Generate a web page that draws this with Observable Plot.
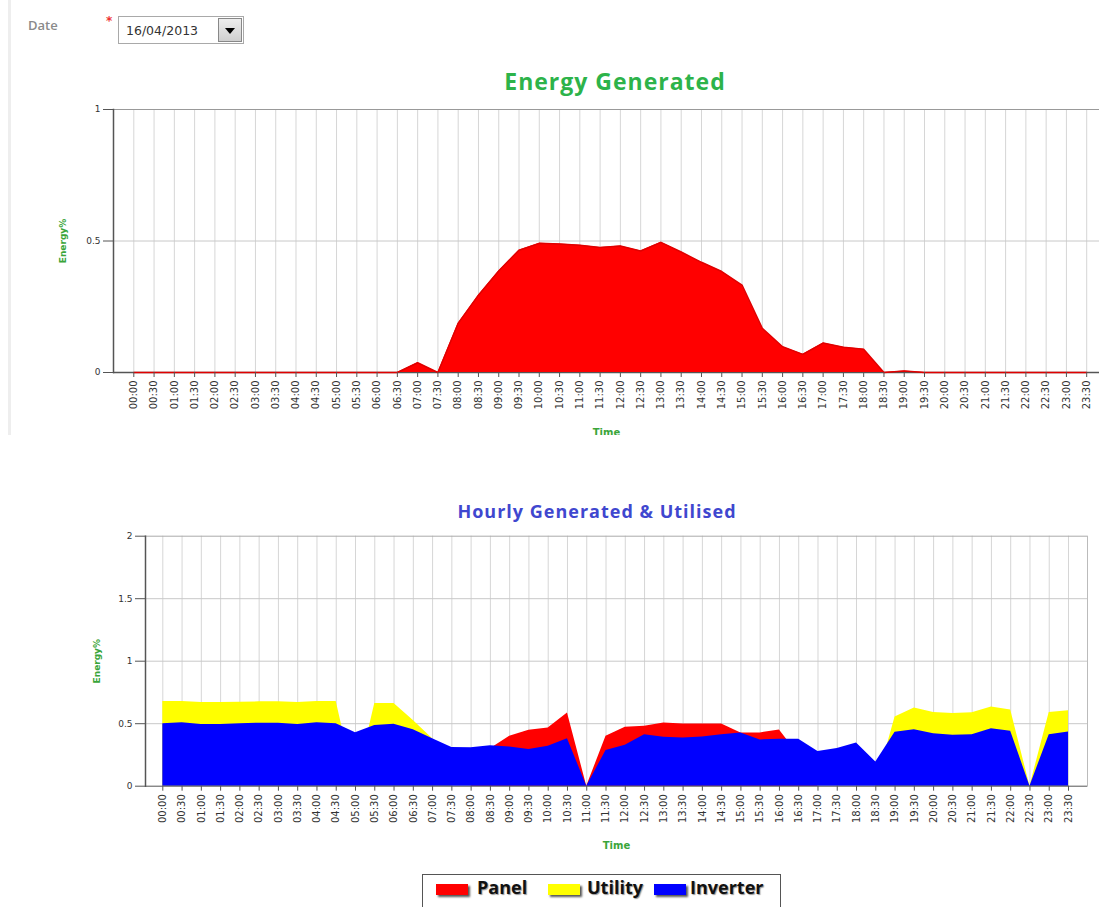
<!DOCTYPE html>
<html>
<head>
<meta charset="utf-8">
<script src="https://cdn.jsdelivr.net/npm/d3@7"></script>
<script src="https://cdn.jsdelivr.net/npm/@observablehq/plot@0.6"></script>
<style>
  html, body { margin: 0; padding: 0; background: #fff; }
  #page { position: relative; width: 1099px; height: 907px; overflow: hidden; background: #fff; }
  .abs { position: absolute; }
  #strip { left: 8px; top: 0; width: 3px; height: 435px; background: #eeeeee; }
  #dateLbl { left: 28px; top: 16px; font: 600 13px "Open Sans", sans-serif; color: #8a8a8a; }
  #star { left: 106px; top: 14px; font: bold 12px "DejaVu Sans", sans-serif; color: #e33; }
  #sel { left: 118px; top: 16px; width: 126px; height: 28px; border: 1px solid #a9a9a9; background: #fff; box-sizing: border-box; }
  #selTxt { left: 7px; top: 6px; font: 12.5px "DejaVu Sans", sans-serif; color: #333; }
  #selBtn { right: 1px; top: 1px; width: 24px; height: 24px; border: 1px solid #888; box-sizing: border-box; background: linear-gradient(#eee, #cfcfcf); }
  #tri { left: 6px; top: 9px; width: 0; height: 0; border-left: 5px solid transparent; border-right: 5px solid transparent; border-top: 6px solid #000; }
  .title { text-align: center; font-weight: 700; font-family: "Open Sans", sans-serif; white-space: nowrap; }
  #t1 { left: 315px; width: 600px; top: 65px; font-size: 23px; letter-spacing: 1px; color: #2db34a; }
  #t2 { left: 297px; width: 600px; top: 499px; font-size: 18px; letter-spacing: 1px; color: #3f47cf; }
  #topChart { left: 0; top: 0; height: 435px; overflow: hidden; }
  #botChart { left: 0; top: 440px; }
  #legend { left: 422px; top: 874px; width: 359px; height: 40px; border: 1px solid #555; box-sizing: border-box; background: #fff; }
  .sw { position: absolute; top: 9px; width: 32px; height: 11px; box-shadow: 2px 2px 2px #555; }
  .lt { position: absolute; top: 0px; font: 700 18px "Open Sans", sans-serif; color: #111; text-shadow: 1px 1px 1px #999; }
</style>
</head>
<body>
<div id="page">
  <div id="strip" class="abs"></div>
  <div id="dateLbl" class="abs">Date</div>
  <div id="star" class="abs">*</div>
  <div id="sel" class="abs"><div id="selTxt" class="abs">16/04/2013</div><div id="selBtn" class="abs"><div id="tri" class="abs"></div></div></div>
  <div id="t1" class="abs title">Energy Generated</div>
  <div id="topChart" class="abs"></div>
  <div id="t2" class="abs title">Hourly Generated &amp; Utilised</div>
  <div id="botChart" class="abs"></div>
  <div id="legend" class="abs">
    <div class="sw" style="left:13px;background:#ff0000"></div><div class="lt" style="left:54px">Panel</div>
    <div class="sw" style="left:125px;background:#ffff00"></div><div class="lt" style="left:164px">Utility</div>
    <div class="sw" style="left:231px;background:#0000ff"></div><div class="lt" style="left:267px">Inverter</div>
  </div>
</div>
<script>
// ---- data ----
const times = ["00:00","00:30","01:00","01:30","02:00","02:30","03:00","03:30","04:00","04:30",
  "05:00","05:30","06:00","06:30","07:00","07:30","08:00","08:30","09:00","09:30",
  "10:00","10:30","11:00","11:30","12:00","12:30","13:00","13:30","14:00","14:30",
  "15:00","15:30","16:00","16:30","17:00","17:30","18:00","18:30","19:00","19:30",
  "20:00","20:30","21:00","21:30","22:00","22:30","23:00","23:30"];

// Energy Generated (top chart)
const generated = [0,0,0,0,0,0,0,0,0,0,
  0,0,0,0,0.037,0,0.187,0.294,0.386,0.465,
  0.491,0.489,0.484,0.475,0.481,0.462,0.495,0.458,0.419,0.384,
  0.332,0.168,0.098,0.069,0.112,0.096,0.088,0,0.006,0,
  0,0,0,0,0,0,0,0];

// Hourly Generated & Utilised (bottom chart)
const panel = [0,0,0,0,0,0,0,0,0,0,
  0,0,0,0,0,0,0,0.30,0.399,0.447,
  0.465,0.585,0,0.399,0.471,0.479,0.505,0.497,0.497,0.497,
  0.426,0.426,0.449,0.25,0,0,0,0,0,0,
  0,0,0,0,0,0,0,0];
const utility = [0.677,0.677,0.669,0.669,0.672,0.675,0.675,0.669,0.677,0.677,
  0,0.661,0.661,0.525,0.379,0,0,0,0,0,
  0,0,0,0,0,0,0,0,0,0,
  0,0,0,0,0,0,0,0,0.553,0.625,
  0.590,0.582,0.588,0.633,0.609,0,0.590,0.604];
const inverter = [0.499,0.507,0.493,0.493,0.499,0.504,0.504,0.493,0.507,0.499,
  0.427,0.485,0.496,0.451,0.379,0.31,0.308,0.324,0.314,0.293,
  0.319,0.380,0,0.285,0.327,0.412,0.391,0.386,0.394,0.412,
  0.426,0.370,0.375,0.375,0.277,0.301,0.346,0.194,0.431,0.452,
  0.420,0.407,0.412,0.460,0.439,0,0.412,0.434];

const topTicks = [0, 0.5, 1];
const botTicks = [0, 0.5, 1, 1.5, 2];

// ---- styles ----
const axisColor = "#555";
const gridColor = "#d6d6d6";
const labelGreen = "#3aa53a";
const tickFont = 10;
const fmt = d => String(d);

const topData = times.map((t, i) => ({t, v: generated[i]}));

const topPlot = Plot.plot({
  width: 1099, height: 436,
  marginLeft: 113, marginRight: 0, marginTop: 109, marginBottom: 64,
  style: {fontFamily: "DejaVu Sans, sans-serif", fontSize: "10px", color: "#333", background: "transparent", overflow: "visible"},
  x: {type: "point", domain: times, range: [133.3, 1086.2], padding: 0, round: false},
  y: {domain: [0, 1]},
  marks: [
    Plot.ruleX(times, {x: d => d, stroke: gridColor, strokeWidth: 1}),
    Plot.ruleY([0.5], {stroke: "#c8c8c8"}),
    Plot.ruleY([1], {stroke: "#999"}),
    Plot.ruleY([0], {stroke: axisColor, strokeWidth: 1.5}),
    Plot.areaY(topData, {x: "t", y: "v", fill: "#ff0000"}),
    Plot.lineY(topData, {x: "t", y: "v", stroke: "#e00000", strokeWidth: 1.5}),
    Plot.frame({anchor: "left", stroke: axisColor, strokeWidth: 1.5}),
    Plot.axisY({ticks: topTicks, tickFormat: fmt, tickSize: 10, tickPadding: 3, fontSize: 9, stroke: axisColor, label: null}),
    Plot.axisX({tickRotate: -90, tickSize: 5, tickPadding: 3, fontSize: tickFont, stroke: axisColor, label: null}),
    Plot.text(["Energy%"], {frameAnchor: "left", dx: -50, rotate: -90, textAnchor: "middle", fill: labelGreen, fontWeight: "bold", fontSize: 9}),
    Plot.text(["Time"], {frameAnchor: "bottom", dy: 63, textAnchor: "middle", fill: labelGreen, fontWeight: "bold", fontSize: 10})
  ]
});
document.getElementById("topChart").appendChild(topPlot);

const botData = times.map((t, i) => ({t, panel: panel[i], utility: utility[i], inverter: inverter[i]}));

const botPlot = Plot.plot({
  width: 1099, height: 420,
  marginLeft: 145, marginRight: 12, marginTop: 95.7, marginBottom: 74.3,
  style: {fontFamily: "DejaVu Sans, sans-serif", fontSize: "10px", color: "#333", background: "transparent", overflow: "visible"},
  x: {type: "point", domain: times, range: [162.3, 1068], padding: 0, round: false},
  y: {domain: [0, 2]},
  marks: [
    Plot.ruleX(times, {x: d => d, stroke: gridColor, strokeWidth: 1}),
    Plot.ruleY([0.5, 1, 1.5], {stroke: "#c8c8c8"}),
    Plot.ruleY([2], {stroke: "#aaa"}),
    Plot.frame({anchor: "right", stroke: "#bbb"}),
    Plot.areaY(botData, {x: "t", y: "panel", fill: "#ff0000"}),
    Plot.areaY(botData, {x: "t", y: "utility", fill: "#ffff00"}),
    Plot.areaY(botData, {x: "t", y: "inverter", fill: "#0000ff"}),
    Plot.ruleY([0], {stroke: axisColor, strokeWidth: 1}),
    Plot.frame({anchor: "left", stroke: axisColor, strokeWidth: 1.5}),
    Plot.axisY({ticks: botTicks, tickFormat: fmt, tickSize: 10, tickPadding: 3, fontSize: 9, stroke: axisColor, label: null}),
    Plot.axisX({tickRotate: -90, tickSize: 5, tickPadding: 3, fontSize: tickFont, stroke: axisColor, label: null}),
    Plot.text(["Energy%"], {frameAnchor: "left", dx: -48, rotate: -90, textAnchor: "middle", fill: labelGreen, fontWeight: "bold", fontSize: 9}),
    Plot.text(["Time"], {frameAnchor: "bottom", dy: 63, textAnchor: "middle", fill: labelGreen, fontWeight: "bold", fontSize: 10})
  ]
});
document.getElementById("botChart").appendChild(botPlot);
</script>
</body>
</html>
